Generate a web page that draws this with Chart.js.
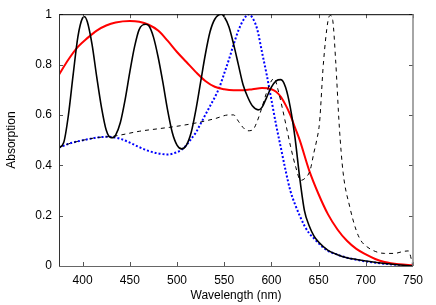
<!DOCTYPE html>
<html lang="en">
<head>
  <meta charset="UTF-8">
  <title>Absorption</title>
  <script src="https://cdn.jsdelivr.net/npm/chart.js"></script>
  <style>
    html, body {
      margin: 0;
      padding: 0;
      background: #fff;
    }
    #box {
      width: 436px;
      height: 305px;
    }
  </style>
</head>
<body>
<div id="box"><canvas id="myChart"></canvas></div>

<script>
  // tick labels
  const xTicks = [400, 450, 500, 550, 600, 650, 700, 750];
  const yTicks = [0, 0.2, 0.4, 0.6, 0.8, 1];

  // black solid
  const solidNm = [375, 380, 385, 390, 395, 400, 402, 405, 410, 415, 420, 425, 430, 432, 435, 440, 445, 450, 455, 460, 467, 470, 475, 480, 485, 490, 495, 500, 505, 510, 515, 520, 525, 530, 535, 540, 547, 550, 555, 560, 565, 570, 575, 580, 586, 590, 595, 600, 605, 610, 615, 620, 625, 630, 635, 640, 645, 650, 660, 670, 680, 690, 700, 720, 750];
  const solidAbs = [0.47, 0.49, 0.6, 0.76, 0.91, 0.985, 0.99, 0.97, 0.88, 0.75, 0.63, 0.54, 0.51, 0.51, 0.52, 0.57, 0.66, 0.77, 0.87, 0.94, 0.96, 0.955, 0.91, 0.83, 0.73, 0.62, 0.53, 0.48, 0.465, 0.48, 0.53, 0.62, 0.73, 0.84, 0.93, 0.98, 1.0, 0.99, 0.95, 0.88, 0.8, 0.72, 0.67, 0.635, 0.62, 0.63, 0.67, 0.71, 0.735, 0.74, 0.71, 0.63, 0.51, 0.35, 0.22, 0.16, 0.12, 0.095, 0.062, 0.045, 0.033, 0.026, 0.02, 0.01, 0.0];

  // red solid
  const redNm = [375, 385, 395, 405, 415, 425, 435, 450, 460, 470, 480, 490, 500, 510, 520, 530, 540, 550, 560, 570, 580, 590, 600, 605, 610, 615, 620, 625, 630, 640, 650, 660, 670, 680, 690, 700, 710, 720, 735, 750];
  const redAbs = [0.76, 0.82, 0.87, 0.905, 0.935, 0.955, 0.967, 0.973, 0.97, 0.958, 0.935, 0.895, 0.85, 0.81, 0.77, 0.735, 0.712, 0.702, 0.698, 0.698, 0.702, 0.707, 0.702, 0.692, 0.672, 0.64, 0.6, 0.55, 0.5, 0.38, 0.285, 0.205, 0.145, 0.1, 0.068, 0.046, 0.028, 0.016, 0.007, 0.003];

  // blue dotted
  const blueNm = [375, 385, 395, 405, 415, 425, 432, 440, 450, 460, 470, 480, 490, 500, 505, 510, 515, 520, 525, 530, 535, 540, 545, 550, 555, 560, 565, 570, 576, 580, 585, 590, 595, 600, 605, 610, 615, 620, 625, 630, 635, 640, 645, 650, 660, 670, 680, 690, 700, 720, 750];
  const blueAbs = [0.47, 0.485, 0.495, 0.503, 0.51, 0.513, 0.512, 0.505, 0.49, 0.472, 0.457, 0.447, 0.443, 0.452, 0.462, 0.48, 0.505, 0.53, 0.565, 0.6, 0.635, 0.67, 0.71, 0.765, 0.82, 0.88, 0.935, 0.975, 1.0, 0.985, 0.94, 0.85, 0.76, 0.66, 0.56, 0.47, 0.38, 0.3, 0.245, 0.2, 0.16, 0.13, 0.11, 0.09, 0.06, 0.045, 0.033, 0.025, 0.018, 0.009, 0.0];

  // black dashed
  const dashNm = [375, 385, 395, 405, 415, 425, 432, 440, 460, 480, 500, 520, 540, 555, 560, 565, 570, 575, 580, 585, 590, 595, 600, 603, 607, 612, 616, 620, 626, 631, 636, 641, 645, 648, 651, 655, 660, 662.5, 665, 668, 672, 676, 683, 690, 695, 701, 710, 720, 730, 740, 745, 750];
  const dashAbs = [0.47, 0.485, 0.495, 0.503, 0.51, 0.513, 0.515, 0.52, 0.535, 0.545, 0.555, 0.568, 0.585, 0.6, 0.6, 0.575, 0.55, 0.537, 0.54, 0.575, 0.63, 0.69, 0.735, 0.745, 0.7, 0.62, 0.55, 0.48, 0.39, 0.34, 0.35, 0.38, 0.45, 0.5, 0.57, 0.8, 0.975, 0.995, 0.975, 0.82, 0.55, 0.37, 0.235, 0.14, 0.1, 0.077, 0.058, 0.05, 0.05, 0.058, 0.06, 0.0];

  const pts = (xs, ys) => xs.map((v, i) => ({x: v, y: ys[i]}));

  // inside tick marks + frame like the original plot
  const framePlugin = {
    id: 'framePlugin',
    afterDatasetsDraw(chart) {
      const {ctx, chartArea: a, scales: {x, y}} = chart;
      ctx.save();
      ctx.lineWidth = 1;
      ctx.strokeStyle = '#555';
      ctx.beginPath();
      xTicks.forEach(v => {
        const px = Math.round(x.getPixelForValue(v)) + 0.5;
        ctx.moveTo(px, a.bottom); ctx.lineTo(px, a.bottom - 4);
        ctx.moveTo(px, a.top); ctx.lineTo(px, a.top + 4);
      });
      yTicks.forEach(v => {
        const py = Math.round(y.getPixelForValue(v)) + 0.5;
        ctx.moveTo(a.left, py); ctx.lineTo(a.left + 4, py);
        ctx.moveTo(a.right, py); ctx.lineTo(a.right - 4, py);
      });
      ctx.stroke();

      ctx.strokeStyle = '#000';
      ctx.beginPath();
      ctx.moveTo(a.left, a.top + 0.5); ctx.lineTo(a.right, a.top + 0.5);
      ctx.stroke();
      ctx.strokeStyle = '#333';
      ctx.beginPath();
      ctx.moveTo(a.left + 0.5, a.top); ctx.lineTo(a.left + 0.5, a.bottom);
      ctx.stroke();
      ctx.strokeStyle = '#666';
      ctx.beginPath();
      ctx.moveTo(a.left, a.bottom + 0.5); ctx.lineTo(a.right, a.bottom + 0.5);
      ctx.stroke();
      ctx.strokeStyle = '#888';
      ctx.lineWidth = 1.5;
      ctx.beginPath();
      ctx.moveTo(a.right, a.top); ctx.lineTo(a.right, a.bottom);
      ctx.stroke();
      ctx.restore();
    }
  };

  Chart.defaults.font.family = "'Liberation Sans', Arial, sans-serif";
  Chart.defaults.font.size = 12;
  Chart.defaults.color = '#000';

  const ctx = document.getElementById('myChart').getContext('2d');
  const myChart = new Chart(ctx, {
    type: 'line',
    data: {
      datasets: [
        {
          data: pts(dashNm, dashAbs),
          borderColor: '#000',
          borderWidth: 1,
          borderDash: [4, 4]
        },
        {
          data: pts(solidNm, solidAbs),
          borderColor: '#000',
          borderWidth: 1.6
        },
        {
          data: pts(redNm, redAbs),
          borderColor: '#ff0000',
          borderWidth: 2
        },
        {
          data: pts(blueNm, blueAbs),
          borderColor: '#0000ff',
          borderWidth: 2,
          borderDash: [2, 2]
        }
      ]
    },
    options: {
      responsive: true,
      maintainAspectRatio: false,
      animation: false,
      parsing: false,
      elements: {
        point: { radius: 0 },
        line: { tension: 0.4, cubicInterpolationMode: 'monotone', fill: false }
      },
      layout: {
        padding: { top: 14, right: 23, left: 0, bottom: 0 }
      },
      scales: {
        x: {
          type: 'linear',
          min: 375,
          max: 750,
          grid: { display: false, drawTicks: false },
          border: { display: false },
          afterBuildTicks: scale => { scale.ticks = xTicks.map(v => ({value: v})); },
          afterFit: scale => { scale.height = 39; },
          ticks: { padding: 7, maxRotation: 0 },
          title: { display: true, text: 'Wavelength (nm)', padding: { top: 2, bottom: 2 } }
        },
        y: {
          min: 0,
          max: 1,
          grid: { display: false, drawTicks: false },
          border: { display: false },
          afterBuildTicks: scale => { scale.ticks = yTicks.map(v => ({value: v})); },
          afterFit: scale => { scale.width = 59; },
          ticks: { padding: 7, callback: v => String(+v.toFixed(1)) },
          title: { display: true, text: 'Absorption', padding: { top: 4, bottom: 4 } }
        }
      },
      plugins: {
        legend: { display: false },
        tooltip: { enabled: false }
      }
    },
    plugins: [framePlugin]
  });
</script>
</body>
</html>
